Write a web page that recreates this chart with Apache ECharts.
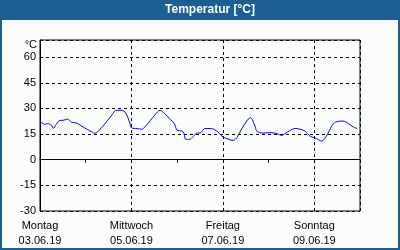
<!DOCTYPE html>
<html>
<head>
<meta charset="utf-8">
<script src="https://cdn.jsdelivr.net/npm/echarts@6/dist/echarts.min.js"></script>
<style>
  html, body { margin: 0; padding: 0; background: #fff; }
  #chart { width: 400px; height: 250px; }
</style>
</head>
<body>
<div id="chart"></div>
<script>
// Stunden seit Montag 03.06.19 00:00
const hours = [0, 2.5, 4, 6, 7, 8.5, 10.5, 12, 14.5, 16.5, 19, 21.5, 25, 27, 29, 31, 33, 35.5, 38, 39.5,
  42, 43, 45, 47, 48, 51, 53.5, 55, 58, 60.5, 63, 65.5, 68, 70.5, 72, 74.5, 75.5, 76.5, 78.5, 80.5,
  82.5, 84, 86.5, 90, 93, 95.5, 98, 101.5, 103.5, 106, 108.5, 110.5, 111.5, 113, 114, 117, 121.5, 124.5,
  127, 128.5, 131.5, 134, 136.5, 139, 142, 144.5, 148, 150, 152, 154, 156.5, 159, 162, 164.5, 166.5];
const temps = [22.5, 20.7, 21.1, 20.1, 18.3, 20.7, 23, 23, 23.8, 21.9, 21.5, 19.9, 17.6, 16.4, 15.4, 17.2, 19.5, 23, 26.5, 28.7,
  28.9, 28.9, 27.3, 22, 18.7, 18.2, 17.8, 19.1, 23, 26.4, 28.9, 26.9, 24, 21.1, 17.2, 16.8, 15.6, 11.9, 11.9, 13.6,
  15.6, 15.6, 18.2, 18.2, 16.6, 13.8, 12.3, 11.3, 13.2, 18.2, 22.6, 24.6, 23.4, 19.1, 16.4, 15.6, 15.8, 15.2,
  14.2, 15.2, 17.2, 18.3, 17.8, 16.8, 13.6, 12.7, 10.9, 13.2, 17.2, 21.1, 22.4, 22.6, 21.1, 19.1, 18.2];
const dayNames = ["Montag", "Dienstag", "Mittwoch", "Donnerstag", "Freitag", "Samstag", "Sonntag", "Montag"];
const dayDates = ["03.06.19", "04.06.19", "05.06.19", "06.06.19", "07.06.19", "08.06.19", "09.06.19", "10.06.19"];
const yTicks = [-30, -15, 0, 15, 30, 45, 60];

const blue = "#1c5f93";
const font = "Liberation Sans, Arial, sans-serif";
const dash = { color: "#000", width: 1, type: [3, 3] };

const chart = echarts.init(document.getElementById("chart"));
chart.setOption({
  animation: false,
  backgroundColor: blue,
  graphic: [
    {
      type: "rect",
      shape: { x: 2, y: 20, width: 396, height: 228 },
      style: { fill: "#fbfdfb" },
      z: -10,
    },
    {
      type: "text",
      x: 210,
      y: 10,
      style: {
        text: "Temperatur [°C]",
        fill: "#fff",
        font: "bold 12px " + font,
        align: "center",
        verticalAlign: "middle",
      },
    },
    {
      type: "text",
      x: 37,
      y: 45,
      style: {
        text: "°C",
        fill: "#000",
        font: "11px " + font,
        align: "right",
        verticalAlign: "middle",
      },
    },
  ],
  grid: {
    left: 40,
    right: 40,
    top: 40,
    bottom: 39,
    show: true,
    backgroundColor: "transparent",
    borderColor: "#000",
    borderWidth: 1,
  },
  xAxis: [
    {
      type: "value",
      min: 0,
      max: 168,
      interval: 24,
      axisLine: { show: true, lineStyle: { color: "#000" } },
      axisTick: { show: true, length: 3, lineStyle: { color: "#000" } },
      axisLabel: { show: false },
      splitLine: { show: false },
    },
    {
      type: "value",
      position: "bottom",
      min: 0,
      max: 168,
      interval: 48,
      axisLine: { show: false },
      axisTick: { show: false },
      splitLine: { show: true, lineStyle: dash },
      axisLabel: {
        show: true,
        color: "#000",
        fontFamily: font,
        fontSize: 11,
        lineHeight: 15,
        margin: 7,
        formatter: function (v) {
          const d = Math.round(v / 24);
          if (v % 48 !== 0 || v >= 168) return "";
          return dayNames[d] + "\n" + dayDates[d];
        },
      },
    },
  ],
  yAxis: {
    type: "value",
    min: -30,
    max: 70,
    interval: 15,
    axisLine: { show: true, lineStyle: { color: "#000" } },
    axisTick: { show: false },
    splitLine: { show: true, lineStyle: dash },
    axisLabel: {
      color: "#000",
      fontFamily: font,
      fontSize: 11,
      margin: 4,
      formatter: function (v) {
        return yTicks.indexOf(v) >= 0 ? String(v) : "";
      },
    },
  },
  series: [
    {
      type: "line",
      xAxisIndex: 0,
      data: hours.map((h, i) => [h, temps[i]]),
      showSymbol: false,
      smooth: 0.3,
      lineStyle: { color: "#0000ff", width: 1 },
    },
  ],
});
</script>
</body>
</html>
